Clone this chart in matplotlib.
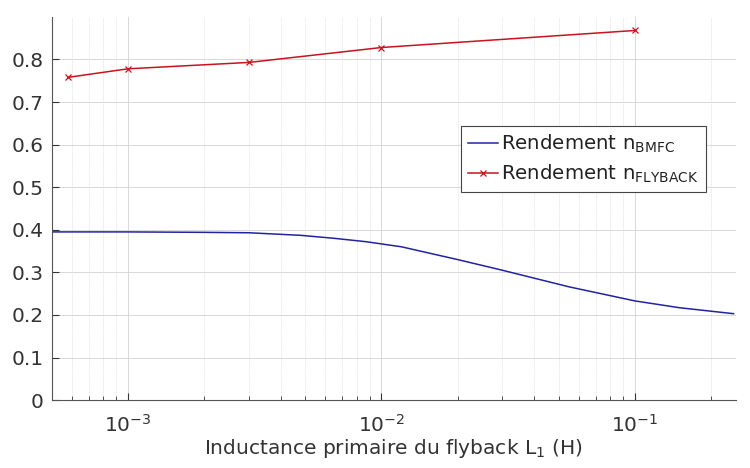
import matplotlib
matplotlib.use("Agg")
import matplotlib.pyplot as plt
from matplotlib.ticker import LogLocator, NullFormatter

# Rendement du convertisseur BMFC (courbe continue)
l1_bmfc = [5e-4, 1e-3, 2e-3, 3e-3, 4.8e-3, 6.5e-3, 8.7e-3, 1.2e-2, 2e-2, 3e-2,
           5.5e-2, 1e-1, 1.5e-1, 2.45e-1]
eta_bmfc = [0.395, 0.395, 0.394, 0.393, 0.387, 0.380, 0.372, 0.360, 0.330, 0.305,
            0.266, 0.233, 0.217, 0.203]

# Rendement du flyback (points de mesure)
l1_flyback = [5.8e-4, 1e-3, 3e-3, 1e-2, 1e-1]
eta_flyback = [0.758, 0.778, 0.793, 0.828, 0.868]

xlim = (5e-4, 0.25)
ylim = (0, 0.9)
yticks = [0, 0.1, 0.2, 0.3, 0.4, 0.5, 0.6, 0.7, 0.8]

plt.rcParams["font.family"] = ["DejaVu Sans"]

fig = plt.figure(figsize=(7.5, 4.68), dpi=100)
ax = fig.add_axes([0.069, 0.145, 0.912, 0.819])

ax.plot(l1_bmfc, eta_bmfc, color="#2323a0", lw=1.1,
        label=r"Rendement n$_{\mathregular{BMFC}}$")
ax.plot(l1_flyback, eta_flyback, color="#c8141e", lw=1.1, marker="x", ms=5,
        mew=0.9, label=r"Rendement n$_{\mathregular{FLYBACK}}$")

ax.set_xscale("log")
ax.set_xlim(*xlim)
ax.set_ylim(*ylim)
ax.set_yticks(yticks)
ax.set_yticklabels([f"{v:g}" for v in yticks])
ax.xaxis.set_minor_locator(LogLocator(base=10, subs=range(2, 10), numticks=20))
ax.xaxis.set_minor_formatter(NullFormatter())

ax.grid(True, which="major", color="#d8d8d8", lw=0.7)
ax.grid(True, which="minor", axis="x", color="#e6e6e6", lw=0.6, ls=(0, (2, 1)))
ax.set_axisbelow(True)

for side in ("top", "right"):
    ax.spines[side].set_visible(False)
for side in ("left", "bottom"):
    ax.spines[side].set_color("#555555")
    ax.spines[side].set_linewidth(0.8)

ax.tick_params(which="both", direction="in", colors="#333333", labelsize=14.5)
ax.tick_params(which="major", length=5)
ax.tick_params(which="minor", length=3)
ax.tick_params(axis="x", pad=10)
ax.tick_params(axis="y", pad=6)

ax.set_xlabel(r"Inductance primaire du flyback L$_{\mathregular{1}}$ (H)",
              fontsize=14.5, color="#333333", labelpad=1)

leg = ax.legend(loc="upper left", bbox_to_anchor=(0.6147, 0.731),
                bbox_transform=fig.transFigure, fontsize=14.2, handlelength=1.5,
                handletextpad=0.2, borderpad=0.35, labelspacing=0.4,
                fancybox=False, framealpha=1, borderaxespad=0)
leg.get_frame().set_edgecolor("#444444")
leg.get_frame().set_linewidth(0.8)
for t in leg.get_texts():
    t.set_color("#222222")

fig.savefig("out.png", dpi=100)
